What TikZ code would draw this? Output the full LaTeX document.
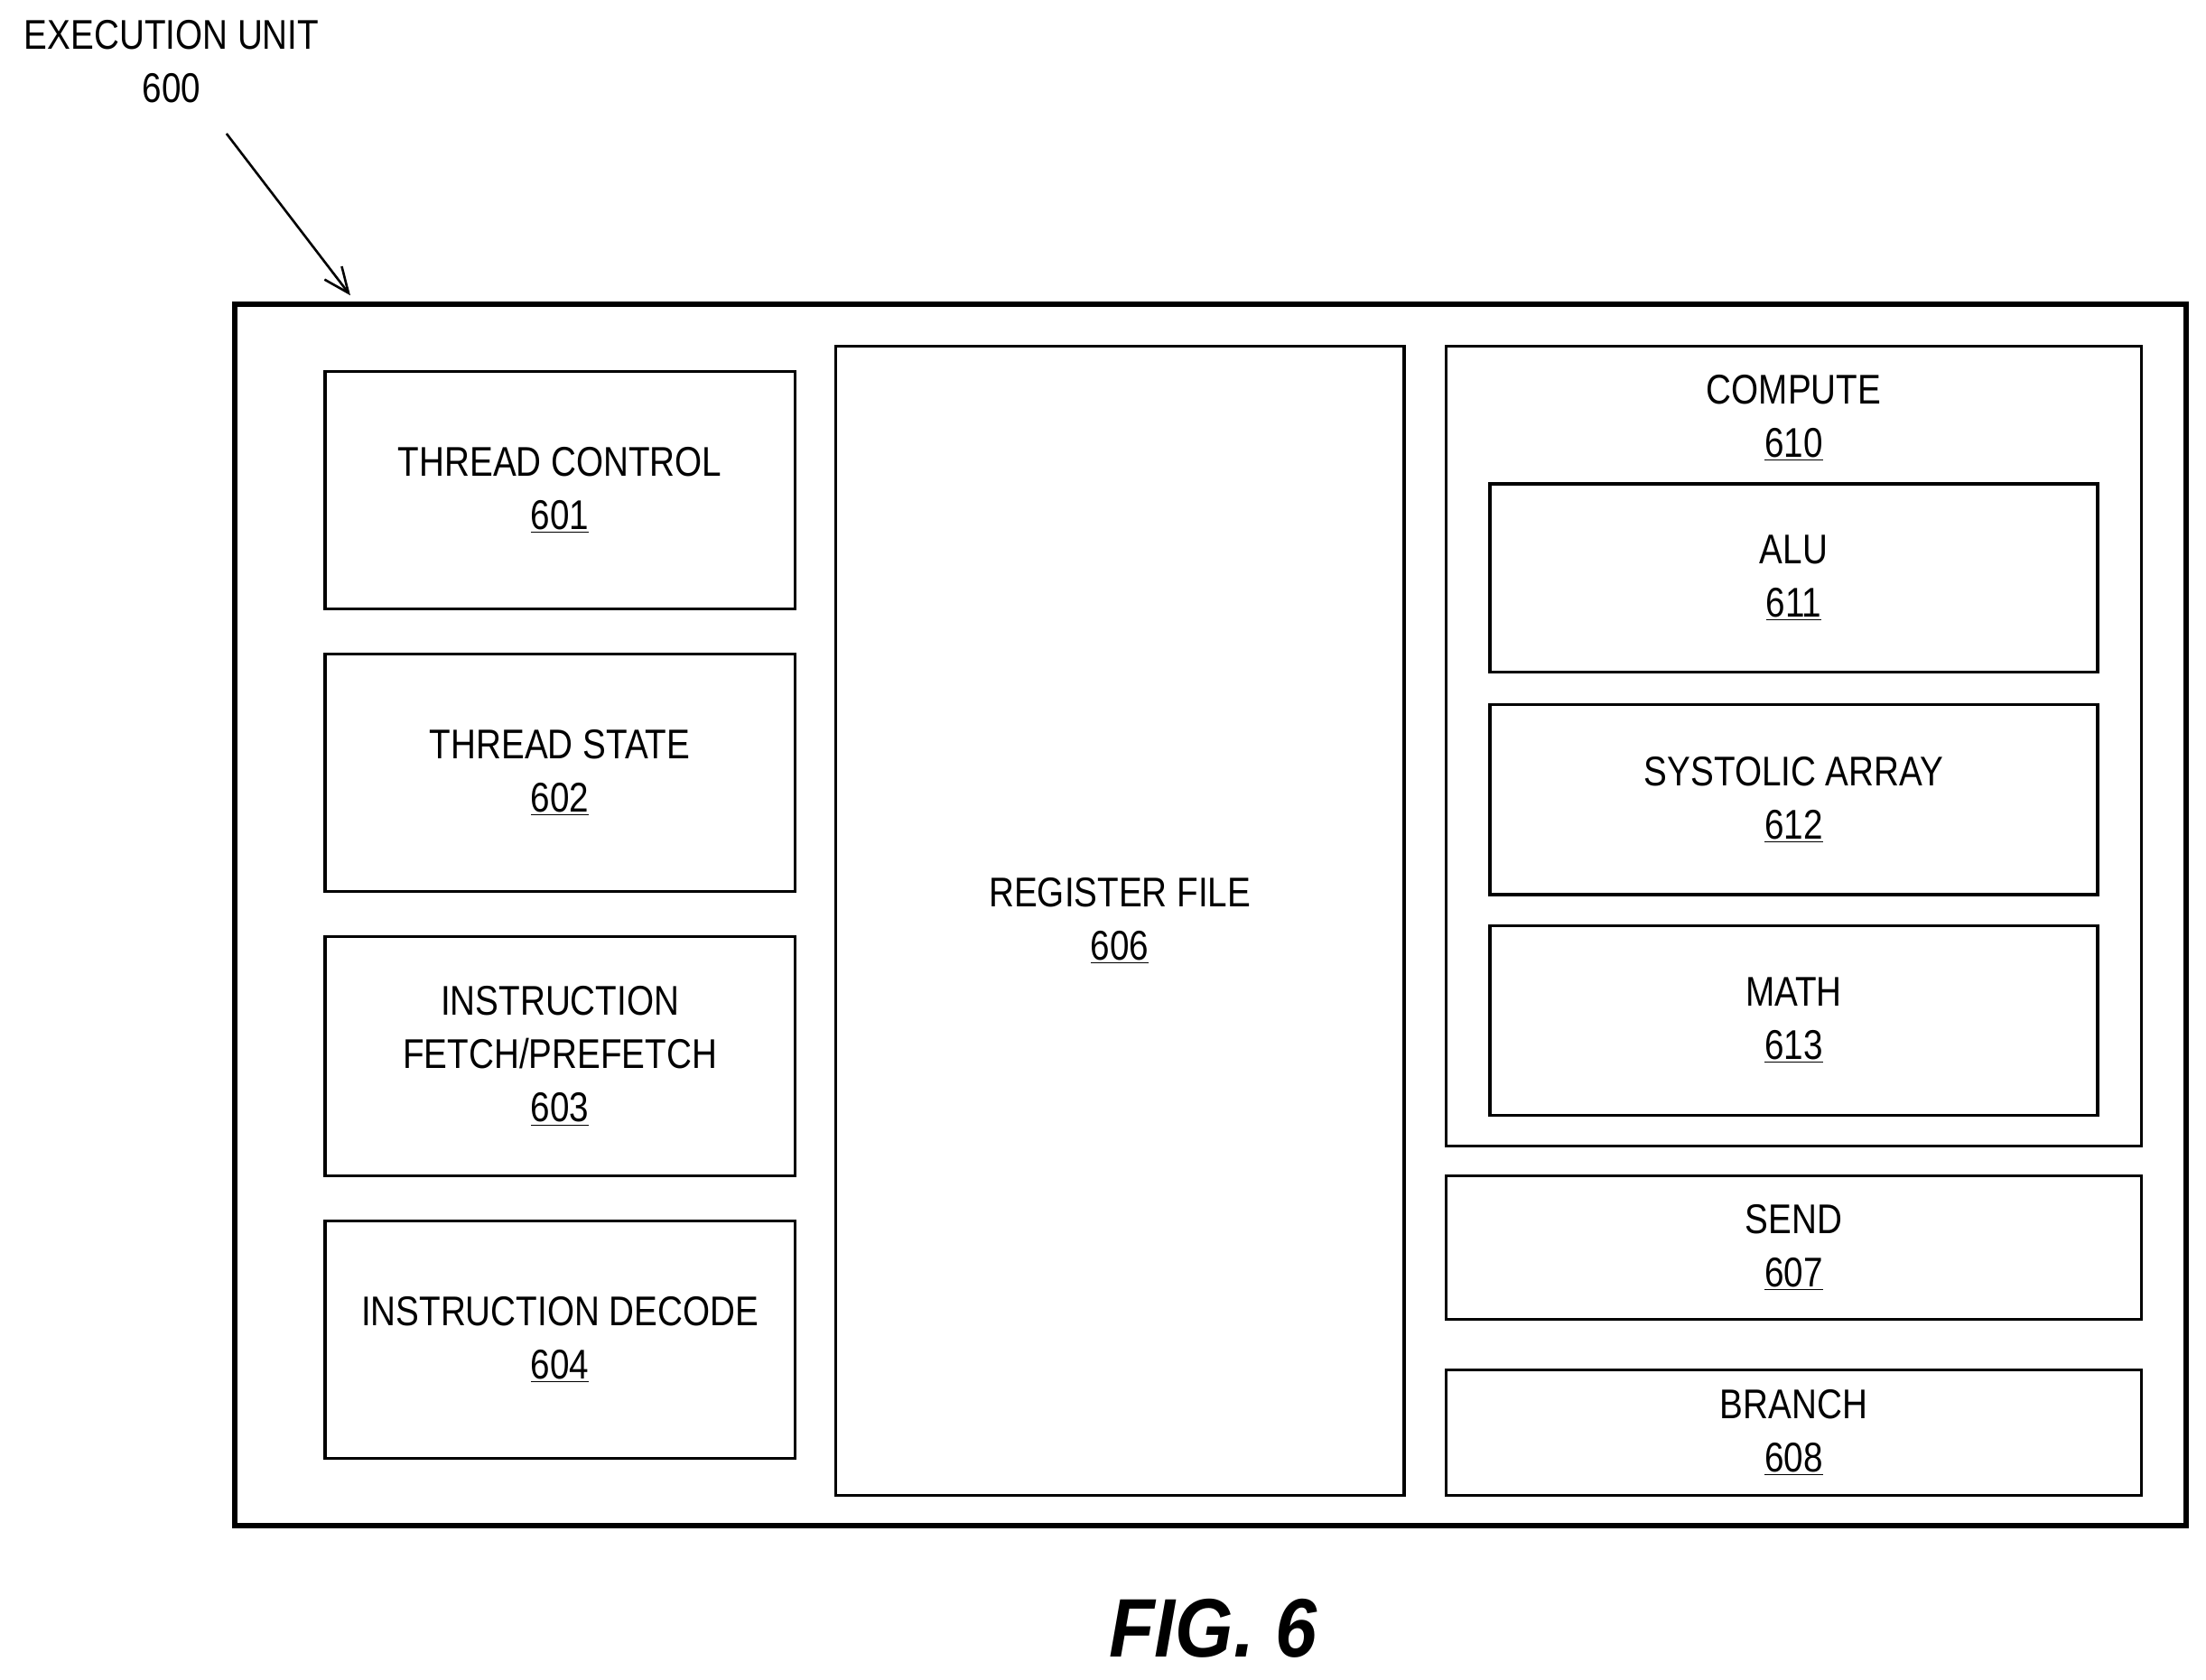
\documentclass[tikz,border=0pt]{standalone}
\usepackage{fontspec}
\setmainfont{Liberation Sans}[FakeStretch=0.84]
\newfontfamily\figfont{Liberation Sans}[FakeStretch=0.9]
\usetikzlibrary{arrows.meta}
\begin{document}
\begin{tikzpicture}[x=0.779pt,y=-0.779pt,
 box/.style={draw,line width=1.6pt},
 txt/.style={font=\fontsize{23}{29.5}\selectfont,align=center,inner sep=0pt}]
\useasboundingbox (0,0) rectangle (1568,1194);
\draw[line width=3pt] (167,216) rectangle (1554,1085);
\newcommand\bx[6]{\draw[box] (#1,#2) rectangle (#3,#4);
 \node[txt] (#5) at ({(#1+#3)/2},{(#2+#4)/2}) {#6};}
\bx{231}{264}{565}{433}{tc}{THREAD CONTROL\\\underline{601}}
\bx{231}{465}{565}{634}{ts}{THREAD STATE\\\underline{602}}
\bx{231}{666}{565}{836}{if}{INSTRUCTION\\FETCH/PREFETCH\\\underline{603}}
\bx{231}{868}{565}{1037}{id}{INSTRUCTION DECODE\\\underline{604}}
\bx{594}{246}{998}{1063}{rf}{REGISTER FILE\\\underline{606}}
\draw[box] (1028,246) rectangle (1522,815);
\node[txt] (cp) at (1275,297) {COMPUTE\\\underline{610}};
\bx{1059}{344}{1491}{478}{alu}{ALU\\\underline{611}}
\bx{1059}{501}{1491}{636}{sa}{SYSTOLIC ARRAY\\\underline{612}}
\bx{1059}{658}{1491}{793}{ma}{MATH\\\underline{613}}
\bx{1028}{836}{1522}{938}{se}{SEND\\\underline{607}}
\bx{1028}{974}{1522}{1063}{br}{BRANCH\\\underline{608}}
\node[txt] (eu) at (122,44) {EXECUTION UNIT\\600};
\coordinate (a1) at (161,95); \coordinate (a2) at (249,210);
\draw[line width=1.3pt,-{Straight Barb[length=14pt,width=12pt]}] (a1) -- (a2);
\node[font=\figfont\fontsize{46}{50}\selectfont\bfseries\itshape,inner sep=0pt] (fig) at (862,1158) {FIG. 6};
\end{tikzpicture}
\end{document}
